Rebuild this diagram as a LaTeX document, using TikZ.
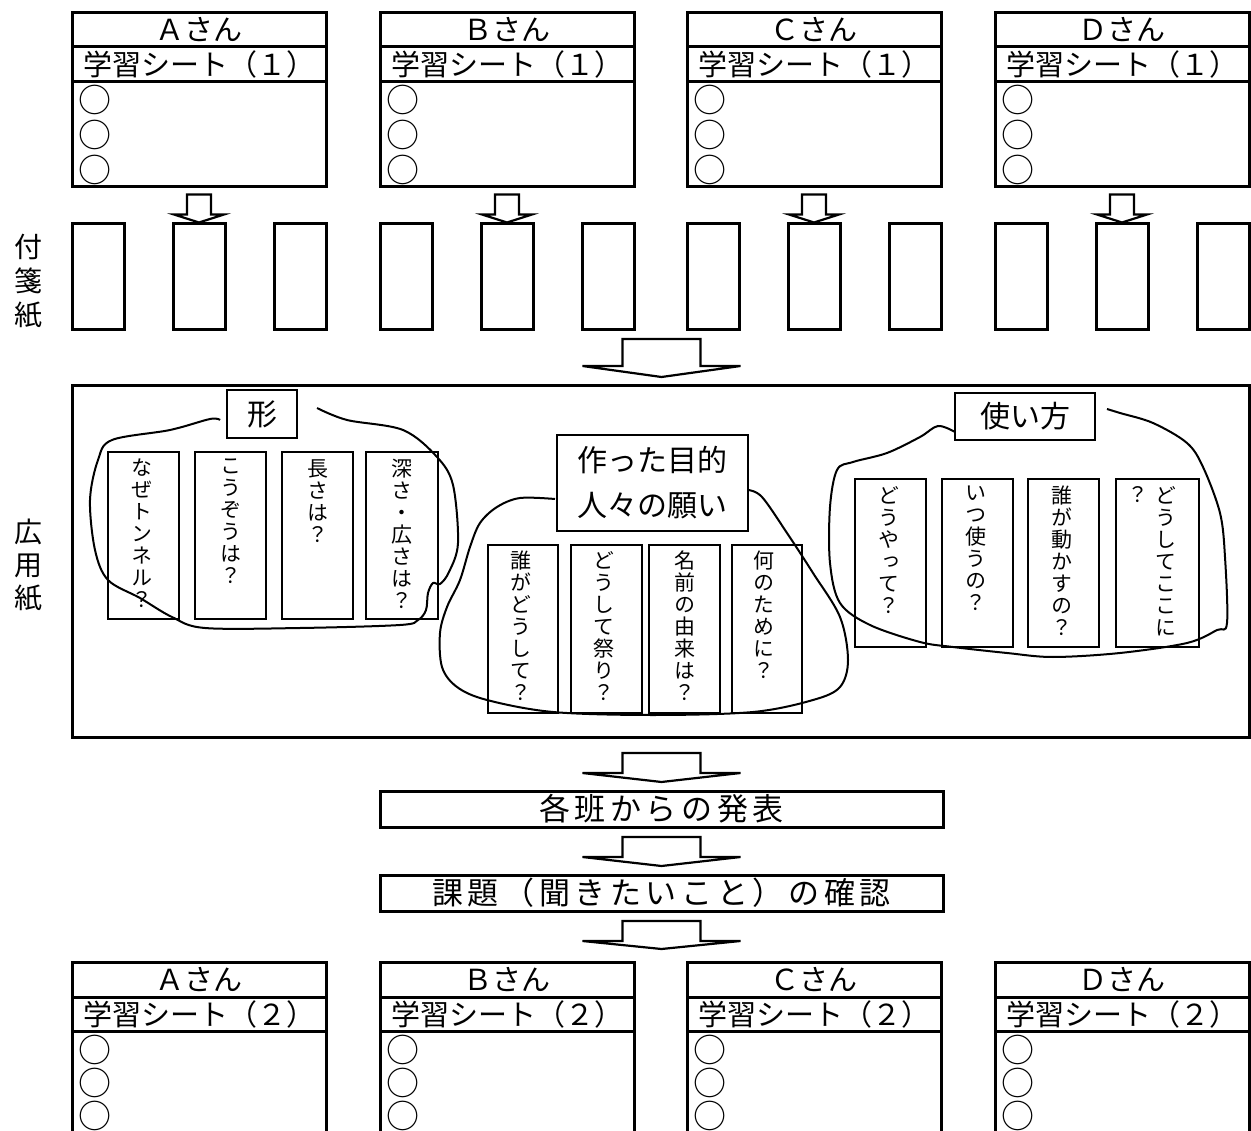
\documentclass[tikz,border=0pt]{standalone}
\usepackage{fontspec}
\setmainfont{Noto Sans CJK JP}
\newfontfamily\vjp[RawFeature=+vert]{Noto Sans CJK JP}
\newfontfamily\spjp[LetterSpace=15]{Noto Sans CJK JP}
\usetikzlibrary{calc,positioning}

\newcommand\blockarrow[5]{%
  \draw[barrow] ($(#1)+(-#3,0)$) -- ($(#2)+(-#3,-#5)$) -- ($(#2)+(-#4,-#5)$) -- (#2)
    -- ($(#2)+(#4,-#5)$) -- ($(#2)+(#3,-#5)$) -- ($(#1)+(#3,0)$) -- cycle;}

\tikzset{
  sheetrow/.style={draw, line width=3pt, minimum width=254pt, inner sep=0pt, font=\fontsize{29}{30}\selectfont},
  circmark/.style={anchor=west, inner sep=0pt, font=\fontsize{33}{34}\selectfont},
  sticky/.style={draw, line width=3pt, minimum width=52pt, minimum height=106pt, inner sep=0pt},
  inote/.style={draw, line width=2.2pt, minimum width=71pt, minimum height=167pt, inner sep=0pt},
  vtext/.style={align=center, inner sep=0pt, anchor=north, font=\vjp\fontsize{21}{22}\selectfont},
  gtitle/.style={draw, line width=2.2pt, inner sep=0pt, font=\fontsize{30}{45}\selectfont, align=center},
  blob/.style={line width=2pt},
  barrow/.style={line width=2.2pt, line join=miter},
  flowbox/.style={draw, line width=3pt, minimum width=563pt, minimum height=36pt, inner sep=0pt, font=\spjp\fontsize{31}{32}\selectfont},
  sidelabel/.style={align=center, inner sep=0pt, font=\fontsize{28}{34}\selectfont},
}

\begin{document}
\begin{tikzpicture}[x=1pt,y=-1pt]
\useasboundingbox (0,0) rectangle (1251,1131);

% top sheets, sticky notes, small arrows
\foreach \L/\lx/\F in {A/72/Ａ,B/380/Ｂ,C/687/Ｃ,D/995/Ｄ}{
  \node[sheetrow, minimum height=34pt] (h\L) at (\lx+127,30) {\F さん};
  \node[sheetrow, minimum height=35pt] (t\L) at (\lx+127,64.5) {学習シート（１）};
  \node[sheetrow, minimum height=105pt] (b\L) at (\lx+127,134.5) {};
  \node[circmark] (c\L1) at (\lx+6,99.5) {○};
  \node[circmark] (c\L2) at (\lx+6,134.5) {○};
  \node[circmark] (c\L3) at (\lx+6,169.5) {○};
  \node[sticky] (s\L1) at (\lx+26,277) {};
  \node[sticky] (s\L2) at (\lx+127,277) {};
  \node[sticky] (s\L3) at (\lx+228,277) {};
  \coordinate (at\L) at ($(b\L.south)+(0,6)$);
  \blockarrow{at\L}{s\L2.north}{12}{25}{8}
}

% side labels
\node[sidelabel] (lab1) at (28,281) {付\\箋\\紙};
\node[sidelabel, font=\fontsize{28}{33}\selectfont] (lab2) at (28,565) {広\\用\\紙};

% big sheet
\node[draw, line width=3pt, minimum width=1177pt, minimum height=351pt, inner sep=0pt] (big) at (660.5,561.5) {};
\coordinate (ar1t) at (661.5,339);
\coordinate (ar1h) at (661.5,377);
\blockarrow{ar1t}{ar1h}{39}{79}{11}

% group: 形
\node[gtitle, minimum width=70pt, minimum height=48pt] (g1) at (262,414) {形};
\node[inote] (n11) at (143.5,535.5) {};
\node[inote] (n12) at (230.5,535.5) {};
\node[inote] (n13) at (317.5,535.5) {};
\node[inote, minimum width=72pt] (n14) at (402,535.5) {};
\node[vtext] (v11) at (142,459) {な\\ぜ\\ト\\ン\\ネ\\ル\\？};
\node[vtext] (v12) at (230.5,459) {こ\\う\\ぞ\\う\\は\\？};
\node[vtext] (v13) at (317.5,459) {長\\さ\\は\\？};
\node[vtext] (v14) at (402,459) {深\\さ\\・\\広\\さ\\は\\？};
\draw[blob] plot[smooth, tension=0.55] coordinates {(317,408) (347,420) (403,430) (437,457) (453,485) (458,543) (449,572) (440,584) (433,583) (428,593) (426,610) (418,620) (400,625) (300,628) (205,628) (172,617) (140,598) (108,580) (95,550) (90,500) (98,460) (112,440) (170,430) (210,419) (220,420)};

% group: 作った目的
\node[gtitle, minimum width=191pt, minimum height=96pt] (g2) at (652.5,483) {作った目的\\人々の願い};
\node[inote, minimum width=70pt, minimum height=168pt] (n21) at (523,629) {};
\node[inote, minimum height=168pt] (n22) at (606.5,629) {};
\node[inote, minimum height=168pt] (n23) at (684.5,629) {};
\node[inote, minimum width=70pt, minimum height=168pt] (n24) at (767,629) {};
\node[vtext] (v21) at (521,551) {誰\\が\\ど\\う\\し\\て\\？};
\node[vtext] (v22) at (604,551) {ど\\う\\し\\て\\祭\\り\\？};
\node[vtext] (v23) at (684.5,551) {名\\前\\の\\由\\来\\は\\？};
\node[vtext] (v24) at (764,551) {何\\の\\た\\め\\に\\？};
\draw[blob] plot[smooth, tension=0.55] coordinates {(555,499) (520,498) (497,507) (480,523) (470,547) (460,580) (447,607) (440,633) (442,667) (457,687) (487,700) (553,712) (653,715) (753,712) (813,700) (840,687) (848,660) (840,617) (813,573) (787,533) (762,497) (748,490)};

% group: 使い方
\node[gtitle, minimum width=140pt, minimum height=47pt] (g3) at (1025,416.5) {使い方};
\node[inote, minimum height=168pt] (n31) at (890.5,563) {};
\node[inote, minimum height=168pt] (n32) at (977.5,563) {};
\node[inote, minimum height=168pt] (n33) at (1063.5,563) {};
\node[inote, minimum width=83pt, minimum height=168pt] (n34) at (1157.5,563) {};
\node[vtext] (v31) at (889,486) {ど\\う\\や\\っ\\て\\？};
\node[vtext] (v32) at (976,486) {い\\つ\\使\\う\\の\\？};
\node[vtext] (v33) at (1062,486) {誰\\が\\動\\か\\す\\の\\？};
\node[vtext] (v34a) at (1166,486) {ど\\う\\し\\て\\こ\\こ\\に};
\node[vtext] (v34b) at (1138,486) {？};
\draw[blob] plot[smooth, tension=0.55] coordinates {(1107,409) (1120,413) (1153,423) (1187,443) (1203,467) (1220,513) (1225,557) (1227,623) (1217,630) (1187,643) (1120,653) (1053,657) (1007,653) (953,647) (920,642) (870,625) (840,603) (830,563) (830,507) (837,470) (853,462) (887,453) (920,437) (938,426) (955,432)};

% flow boxes
\coordinate (ar2t) at (661.5,753);
\coordinate (ar2h) at (661.5,782);
\blockarrow{ar2t}{ar2h}{39}{79}{9}
\node[flowbox] (f1) at (661.5,809) {各班からの発表};
\coordinate (ar3t) at (661.5,837);
\coordinate (ar3h) at (661.5,866);
\blockarrow{ar3t}{ar3h}{39}{79}{9}
\node[flowbox] (f2) at (661.5,893) {課題（聞きたいこと）の確認};
\coordinate (ar4t) at (661.5,921);
\coordinate (ar4h) at (661.5,949);
\blockarrow{ar4t}{ar4h}{39}{79}{8}

% bottom sheets
\foreach \L/\lx/\F in {A/72/Ａ,B/380/Ｂ,C/687/Ｃ,D/995/Ｄ}{
  \node[sheetrow, minimum height=35pt] (bh\L) at (\lx+127,979.5) {\F さん};
  \node[sheetrow, minimum height=34pt] (bt\L) at (\lx+127,1014) {学習シート（２）};
  \node[sheetrow, minimum height=129pt] (bb\L) at (\lx+127,1095.5) {};
  \node[circmark] (bc\L1) at (\lx+6,1050) {○};
  \node[circmark] (bc\L2) at (\lx+6,1083) {○};
  \node[circmark] (bc\L3) at (\lx+6,1116) {○};
}
\end{tikzpicture}
\end{document}
